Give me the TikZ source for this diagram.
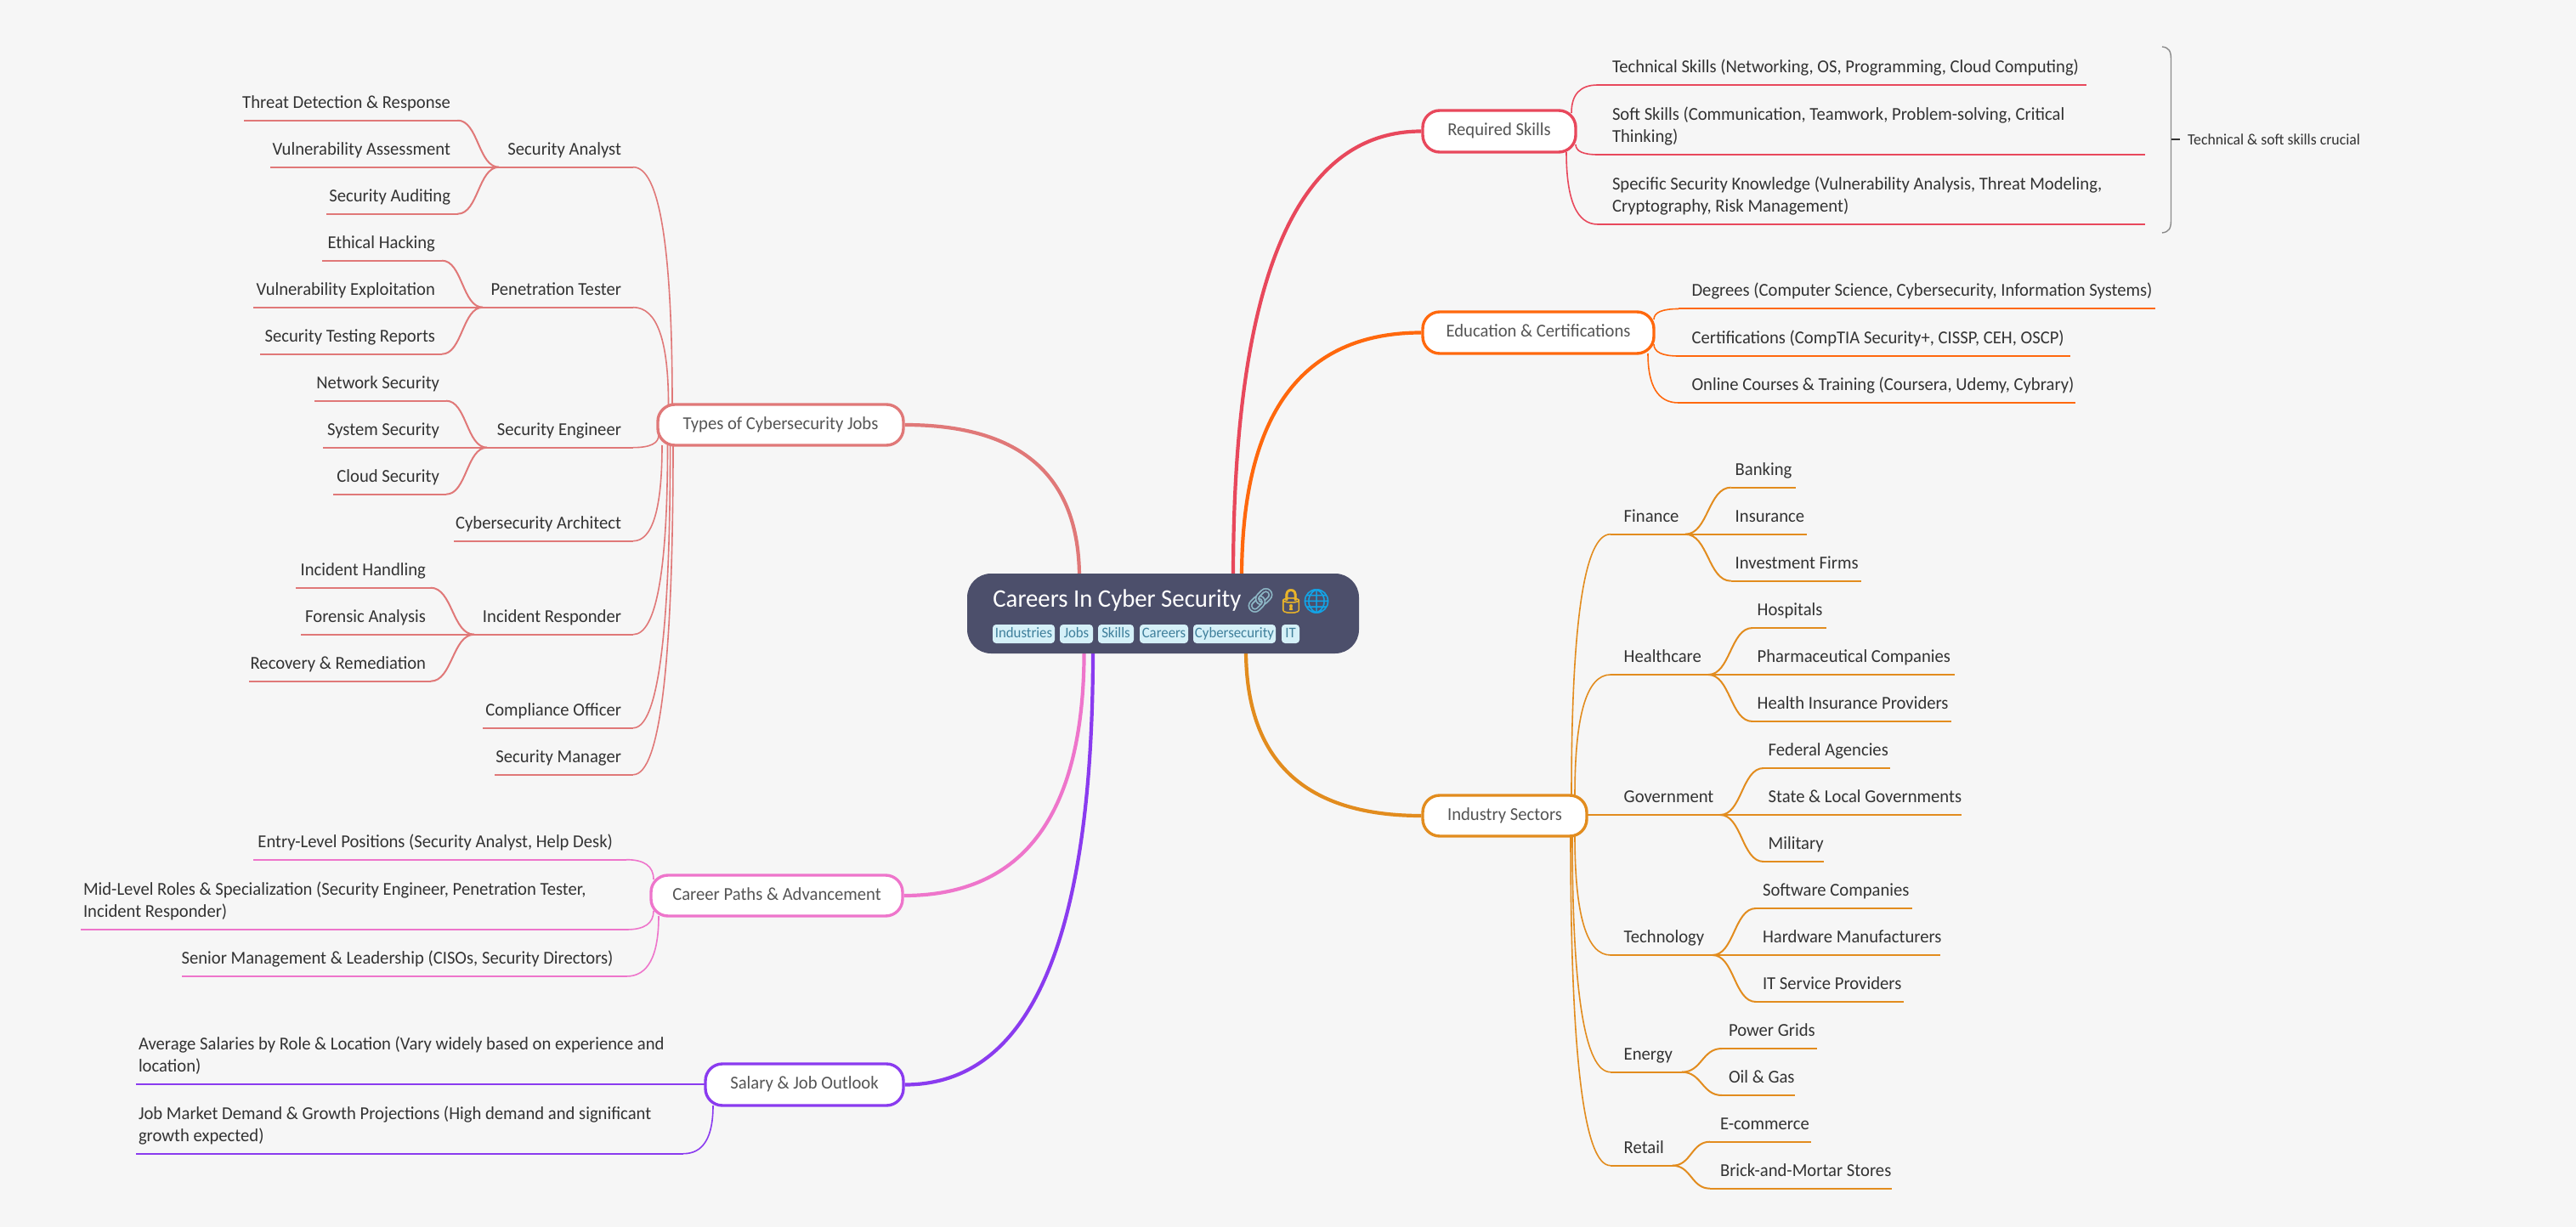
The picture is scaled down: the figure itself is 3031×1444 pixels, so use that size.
\documentclass[tikz,border=0pt]{standalone}
\usepackage{fontspec}
\setmainfont{Carlito}[FakeStretch=0.965]
\newfontfamily\emojifont{Noto Emoji}[FakeBold=1.6]
\usetikzlibrary{calc}
\pgfdeclarelayer{bg}
\pgfsetlayers{bg,main}
\definecolor{cbg}{HTML}{F6F6F6}
\definecolor{croot}{HTML}{4C4F6B}
\definecolor{ctagbg}{HTML}{D5F0F8}
\definecolor{ctagtx}{HTML}{3F7F9B}
\definecolor{cleaf}{HTML}{333333}
\definecolor{cbr}{HTML}{555555}
\definecolor{cred}{HTML}{E8485C}
\definecolor{corange}{HTML}{FF680D}
\definecolor{camber}{HTML}{E28C1E}
\definecolor{csalmon}{HTML}{E07878}
\definecolor{cpink}{HTML}{EE75CB}
\definecolor{cviolet}{HTML}{8A3BEF}
\definecolor{cbrace}{HTML}{8A8A8A}
\definecolor{clink}{HTML}{8DB7C6}
\definecolor{clock}{HTML}{E9B42A}
\definecolor{cglobe}{HTML}{12A5E8}
\newcommand\lfsize{\fontsize{10.7}{13}\selectfont}
\tikzset{
  branchbox/.style={rectangle,rounded corners=10pt,fill=white,line width=1.7pt,inner sep=0pt,
    text=cbr,font=\lfsize,text height=8pt,text depth=3pt},
  leafbox/.style={rectangle,inner sep=0pt,outer sep=0pt,text=cleaf,font=\lfsize,anchor=south west},
  tagbox/.style={rectangle,rounded corners=2pt,fill=ctagbg,text=ctagtx,inner sep=0pt,
    font=\fontsize{8.7}{10}\selectfont,text height=6pt,text depth=2pt},
  mainlink/.style={line width=2.1pt},
  sublink/.style={line width=0.8pt},
  uline/.style={line width=1pt},
}
% quadratic connector: leaves s along the vertical, arrives at e along the horizontal
\newcommand\qlink[4]{\draw[#1,#2] (#3) .. controls ($(#3)!0.667!(#3|-#4)$) and ($(#4)!0.667!(#3|-#4)$) .. (#4);}
% s-shaped connector between two underlines
\newcommand\slink[3]{\draw[#1,uline] (#2) .. controls ($(#2)!0.5!(#2-|#3)$) and ($(#3)!0.5!(#3-|#2)$) .. (#3);}
% branch box: name x0 y0 x1 y1 colour text
\newcommand\branch[7]{\node[branchbox,draw=#6,minimum width={(#4-#2)*0.5pt},minimum height={(#5-#3)*0.5pt}] (#1) at ({(#2+#4)/2},{(#3+#5)/2}) {#7};}
% underlined text, left aligned: name x0 x1 y textleft text
\newcommand\leafR[6]{\pgfmathsetlengthmacro\lpad{(#5-#2)*0.5pt}\pgfmathsetlengthmacro\lw{(#3-#2)*0.5pt}%
  \node[leafbox] (#1) at (#2,#4) {\hbox to \lw{\hspace*{\lpad}#6\hss\rule[-7.3pt]{0pt}{1pt}}};}
% underlined text, right aligned: name x0 x1 y textright text
\newcommand\leafL[6]{\pgfmathsetlengthmacro\lpad{(#3-#5)*0.5pt}\pgfmathsetlengthmacro\lw{(#3-#2)*0.5pt}%
  \node[leafbox] (#1) at (#2,#4) {\hbox to \lw{\hss #6\hspace*{\lpad}\rule[-7.3pt]{0pt}{1pt}}};}
% two lines, left aligned: name x0 x1 y textleft line1 line2
\newcommand\leafTwo[7]{\pgfmathsetlengthmacro\lpad{(#5-#2)*0.5pt}\pgfmathsetlengthmacro\lw{(#3-#2)*0.5pt}%
  \node[leafbox] (#1) at (#2,#4) {\vbox{\baselineskip=13pt\hbox to \lw{\hspace*{\lpad}#6\hss}\hbox to \lw{\hspace*{\lpad}#7\hss\rule[-7.3pt]{0pt}{1pt}}}};}
\newcommand\uln[2]{\draw[#1,uline] (#2.south west) -- (#2.south east);}
\newcommand\tagn[4]{\node[tagbox,minimum width={(#3-#2)*0.5pt},minimum height=11pt] (#1) at ({(#2+#3)/2},746) {#4};}
\begin{document}
\begin{tikzpicture}[x=0.5pt,y=-0.5pt]
\useasboundingbox (0,0) rectangle (3031,1444);
\begin{pgfonlayer}{bg}
\fill[cbg] (0,0) rectangle (3031,1444);
\end{pgfonlayer}

% root
\node[rectangle,rounded corners=14pt,fill=croot,inner sep=0pt,minimum width=230.5pt,minimum height=47pt] (root) at (1368.5,722) {};
\node[anchor=base west,inner sep=0pt,text=white,font=\fontsize{14.9}{18}\selectfont] (title) at (1168,714) {Careers In Cyber Security};
\node[anchor=base,inner sep=0pt,text=clink,font=\emojifont\fontsize{14}{16}\selectfont] (elink) at (1483,716) {🔗};
\node[anchor=base,inner sep=0pt,text=clock,font=\emojifont\fontsize{14}{16}\selectfont] (elock) at (1519,717) {🔒};
\node[anchor=base,inner sep=0pt,text=cglobe,font=\emojifont\fontsize{14}{16}\selectfont] (eglobe) at (1549,717) {🌐};
\tagn{t1}{1168}{1241}{Industries}
\tagn{t2}{1247}{1286}{Jobs}
\tagn{t3}{1292}{1334}{Skills}
\tagn{t4}{1341}{1398}{Careers}
\tagn{t5}{1404}{1501}{Cybersecurity}
\tagn{t6}{1508}{1529}{IT}

% branches
\branch{req}{1674}{130}{1854}{179}{cred}{Required Skills}
\branch{edu}{1674}{367}{1946}{416}{corange}{Education \& Certifications}
\branch{ind}{1674}{936}{1867}{984}{camber}{Industry Sectors}
\branch{typ}{774}{476}{1063}{524}{csalmon}{Types of Cybersecurity Jobs}
\branch{car}{766}{1030}{1062}{1078}{cpink}{Career Paths \& Advancement}
\branch{sal}{830}{1252}{1063}{1301}{cviolet}{Salary \& Job Outlook}

% required skills
\leafR{rs1}{1880}{2455}{100}{1897}{Technical Skills (Networking, OS, Programming, Cloud Computing)}
\leafTwo{rs2}{1880}{2524}{182}{1897}{Soft Skills (Communication, Teamwork, Problem-solving, Critical}{Thinking)}
\leafTwo{rs3}{1880}{2524}{264}{1897}{Specific Security Knowledge (Vulnerability Analysis, Threat Modeling,}{Cryptography, Risk Management)}
% education
\leafR{ed1}{1975}{2536}{363.5}{1990.5}{Degrees (Computer Science, Cybersecurity, Information Systems)}
\leafR{ed2}{1975}{2436}{419}{1990.5}{Certifications (CompTIA Security+, CISSP, CEH, OSCP)}
\leafR{ed3}{1975}{2442}{474}{1990.5}{Online Courses \& Training (Coursera, Udemy, Cybrary)}

% industry
\leafR{fin}{1895}{1983}{628.7}{1910.7}{Finance}
\leafR{fi1}{2036.7}{2112.7}{573.7}{2041.7}{Banking}
\leafR{fi2}{1983}{2126}{628.7}{2041.7}{Insurance}
\leafR{fi3}{2036.7}{2189.7}{683.7}{2041.7}{Investment Firms}
\leafR{hea}{1895}{2010}{794}{1910.7}{Healthcare}
\leafR{he1}{2062}{2148.7}{739}{2067.7}{Hospitals}
\leafR{he2}{2010}{2300}{794}{2067.7}{Pharmaceutical Companies}
\leafR{he3}{2062}{2295.7}{849}{2067.7}{Health Insurance Providers}
\leafR{gov}{1867}{2024}{959}{1910.7}{Government}
\leafR{go1}{2075}{2223.7}{904}{2080.7}{Federal Agencies}
\leafR{go2}{2024}{2308}{959}{2080.7}{State \& Local Governments}
\leafR{go3}{2075}{2145.7}{1014}{2080.7}{Military}
\leafR{tec}{1895}{2015}{1124}{1910.7}{Technology}
\leafR{te1}{2066}{2250}{1069}{2074}{Software Companies}
\leafR{te2}{2015}{2283}{1124}{2074}{Hardware Manufacturers}
\leafR{te3}{2066}{2240}{1179}{2074}{IT Service Providers}
\leafR{ene}{1895}{1979}{1261.7}{1910.7}{Energy}
\leafR{en1}{2026}{2137.7}{1234}{2034}{Power Grids}
\leafR{en2}{2026}{2112}{1289}{2034}{Oil \& Gas}
\leafR{ret}{1895}{1968}{1371.7}{1910.7}{Retail}
\leafR{re1}{2012}{2130.7}{1343.7}{2024}{E-commerce}
\leafR{re2}{2012}{2225.7}{1398.7}{2024}{Brick-and-Mortar Stores}

% types of jobs
\leafL{jan}{587}{745}{196.7}{731}{Security Analyst}
\leafL{ja1}{287}{538.5}{141.7}{530}{Threat Detection \& Response}
\leafL{ja2}{318}{587}{196.7}{530}{Vulnerability Assessment}
\leafL{ja3}{384}{538.5}{251.7}{530}{Security Auditing}
\leafL{jpt}{568}{745}{361.7}{731}{Penetration Tester}
\leafL{jp1}{379}{520}{306.7}{512}{Ethical Hacking}
\leafL{jp2}{298}{568}{361.7}{512}{Vulnerability Exploitation}
\leafL{jp3}{306}{520}{416.7}{512}{Security Testing Reports}
\leafL{jen}{573}{745}{526.7}{731}{Security Engineer}
\leafL{je1}{370}{525}{471.7}{517}{Network Security}
\leafL{je2}{380}{573}{526.7}{517}{System Security}
\leafL{je3}{392}{525}{581.7}{517}{Cloud Security}
\leafL{jca}{534}{745}{636.7}{731}{Cybersecurity Architect}
\leafL{jir}{558}{745}{746.7}{731}{Incident Responder}
\leafL{ji1}{348}{506.7}{691.7}{501}{Incident Handling}
\leafL{ji2}{354}{558}{746.7}{501}{Forensic Analysis}
\leafL{ji3}{293}{506.7}{801.7}{501}{Recovery \& Remediation}
\leafL{jco}{568}{745}{856.7}{731}{Compliance Officer}
\leafL{jsm}{582}{745}{911.7}{731}{Security Manager}

% career paths
\leafL{ca1}{298}{737}{1011.7}{721}{Entry-Level Positions (Security Analyst, Help Desk)}
\leafTwo{ca2}{95}{737}{1094}{98}{Mid-Level Roles \& Specialization (Security Engineer, Penetration Tester,}{Incident Responder)}
\leafL{ca3}{214}{737}{1149}{721.5}{Senior Management \& Leadership (CISOs, Security Directors)}
% salary
\leafTwo{sa1}{160}{830}{1275.7}{163}{Average Salaries by Role \& Location (Vary widely based on experience and}{location)}
\leafTwo{sa2}{160}{804}{1357.7}{163}{Job Market Demand \& Growth Projections (High demand and significant}{growth expected)}

% summary
\node[anchor=base west,inner sep=0pt,text=cleaf,font=\fontsize{9.2}{11}\selectfont] (sum) at (2573.7,170.7) {Technical \& soft skills crucial};

% named start points on the box edges
\coordinate (rA) at (1451,680);
\coordinate (rB) at (1461,680);
\coordinate (rC) at (1466,765);
\coordinate (rD) at (1270,680);
\coordinate (rE) at (1275.6,765);
\coordinate (rF) at (1286,765);
\coordinate (qa1) at (1849,133);
\coordinate (qa2) at (1854,170);
\coordinate (qa3) at (1843,179);
\coordinate (qb1) at (1946,376);
\coordinate (qb2) at (1946,405);
\coordinate (qb3) at (1939,416);
\coordinate (qi1) at (1849,936);
\coordinate (qi2) at (1853,936);
\coordinate (qi4) at (1853,984);
\coordinate (qi5) at (1850,984);
\coordinate (qi6) at (1848,984);
\coordinate (qt1) at (791,476);
\coordinate (qt2) at (786.5,476);
\coordinate (qt3) at (775,512);
\coordinate (qt4) at (779,524);
\coordinate (qt5) at (785.5,524);
\coordinate (qt6) at (788.6,524);
\coordinate (qt7) at (792,524);
\coordinate (qc1) at (769,1035);
\coordinate (qc2) at (769,1072);
\coordinate (qc3) at (775,1078);
\coordinate (qs2) at (839,1301);
\coordinate (bt) at (2544,55);
\coordinate (bb) at (2544,274);
\coordinate (bm) at (2554.5,164);

\begin{pgfonlayer}{bg}
% root links
\qlink{cred}{mainlink}{rA}{req.west}
\qlink{corange}{mainlink}{rB}{edu.west}
\qlink{camber}{mainlink}{rC}{ind.west}
\qlink{csalmon}{mainlink}{rD}{typ.east}
\qlink{cpink}{mainlink}{rE}{car.east}
\qlink{cviolet}{mainlink}{rF}{sal.east}
% required
\qlink{cred}{sublink}{qa1}{rs1.south west}\uln{cred}{rs1}
\qlink{cred}{sublink}{qa2}{rs2.south west}\uln{cred}{rs2}
\qlink{cred}{sublink}{qa3}{rs3.south west}\uln{cred}{rs3}
% education
\qlink{corange}{sublink}{qb1}{ed1.south west}\uln{corange}{ed1}
\qlink{corange}{sublink}{qb2}{ed2.south west}\uln{corange}{ed2}
\qlink{corange}{sublink}{qb3}{ed3.south west}\uln{corange}{ed3}
% industry
\qlink{camber}{sublink}{qi1}{fin.south west}\uln{camber}{fin}
\qlink{camber}{sublink}{qi2}{hea.south west}\uln{camber}{hea}
\uln{camber}{gov}
\qlink{camber}{sublink}{qi4}{tec.south west}\uln{camber}{tec}
\qlink{camber}{sublink}{qi5}{ene.south west}\uln{camber}{ene}
\qlink{camber}{sublink}{qi6}{ret.south west}\uln{camber}{ret}
\slink{camber}{fin.south east}{fi1.south west}\uln{camber}{fi1}
\uln{camber}{fi2}
\slink{camber}{fin.south east}{fi3.south west}\uln{camber}{fi3}
\slink{camber}{hea.south east}{he1.south west}\uln{camber}{he1}
\uln{camber}{he2}
\slink{camber}{hea.south east}{he3.south west}\uln{camber}{he3}
\slink{camber}{gov.south east}{go1.south west}\uln{camber}{go1}
\uln{camber}{go2}
\slink{camber}{gov.south east}{go3.south west}\uln{camber}{go3}
\slink{camber}{tec.south east}{te1.south west}\uln{camber}{te1}
\uln{camber}{te2}
\slink{camber}{tec.south east}{te3.south west}\uln{camber}{te3}
\slink{camber}{ene.south east}{en1.south west}\uln{camber}{en1}
\slink{camber}{ene.south east}{en2.south west}\uln{camber}{en2}
\slink{camber}{ret.south east}{re1.south west}\uln{camber}{re1}
\slink{camber}{ret.south east}{re2.south west}\uln{camber}{re2}
% jobs
\qlink{csalmon}{sublink}{qt1}{jan.south east}\uln{csalmon}{jan}
\qlink{csalmon}{sublink}{qt2}{jpt.south east}\uln{csalmon}{jpt}
\qlink{csalmon}{sublink}{qt3}{jen.south east}\uln{csalmon}{jen}
\qlink{csalmon}{sublink}{qt4}{jca.south east}\uln{csalmon}{jca}
\qlink{csalmon}{sublink}{qt5}{jir.south east}\uln{csalmon}{jir}
\qlink{csalmon}{sublink}{qt6}{jco.south east}\uln{csalmon}{jco}
\qlink{csalmon}{sublink}{qt7}{jsm.south east}\uln{csalmon}{jsm}
\slink{csalmon}{jan.south west}{ja1.south east}\uln{csalmon}{ja1}
\uln{csalmon}{ja2}
\slink{csalmon}{jan.south west}{ja3.south east}\uln{csalmon}{ja3}
\slink{csalmon}{jpt.south west}{jp1.south east}\uln{csalmon}{jp1}
\uln{csalmon}{jp2}
\slink{csalmon}{jpt.south west}{jp3.south east}\uln{csalmon}{jp3}
\slink{csalmon}{jen.south west}{je1.south east}\uln{csalmon}{je1}
\uln{csalmon}{je2}
\slink{csalmon}{jen.south west}{je3.south east}\uln{csalmon}{je3}
\slink{csalmon}{jir.south west}{ji1.south east}\uln{csalmon}{ji1}
\uln{csalmon}{ji2}
\slink{csalmon}{jir.south west}{ji3.south east}\uln{csalmon}{ji3}
% career
\qlink{cpink}{sublink}{qc1}{ca1.south east}\uln{cpink}{ca1}
\qlink{cpink}{sublink}{qc2}{ca2.south east}\uln{cpink}{ca2}
\qlink{cpink}{sublink}{qc3}{ca3.south east}\uln{cpink}{ca3}
% salary
\uln{cviolet}{sa1}
\qlink{cviolet}{sublink}{qs2}{sa2.south east}\uln{cviolet}{sa2}
% summary brace
\draw[cbrace,line width=0.7pt] (bt) .. controls (2552,56) and (2554.5,60) .. (2554.5,70) -- (2554.5,259) .. controls (2554.5,269) and (2552,273) .. (bb);
\draw[cleaf,line width=0.6pt,shorten >=4.6pt] (bm) -- (sum.west |- bm);
\end{pgfonlayer}
\end{tikzpicture}
\end{document}
